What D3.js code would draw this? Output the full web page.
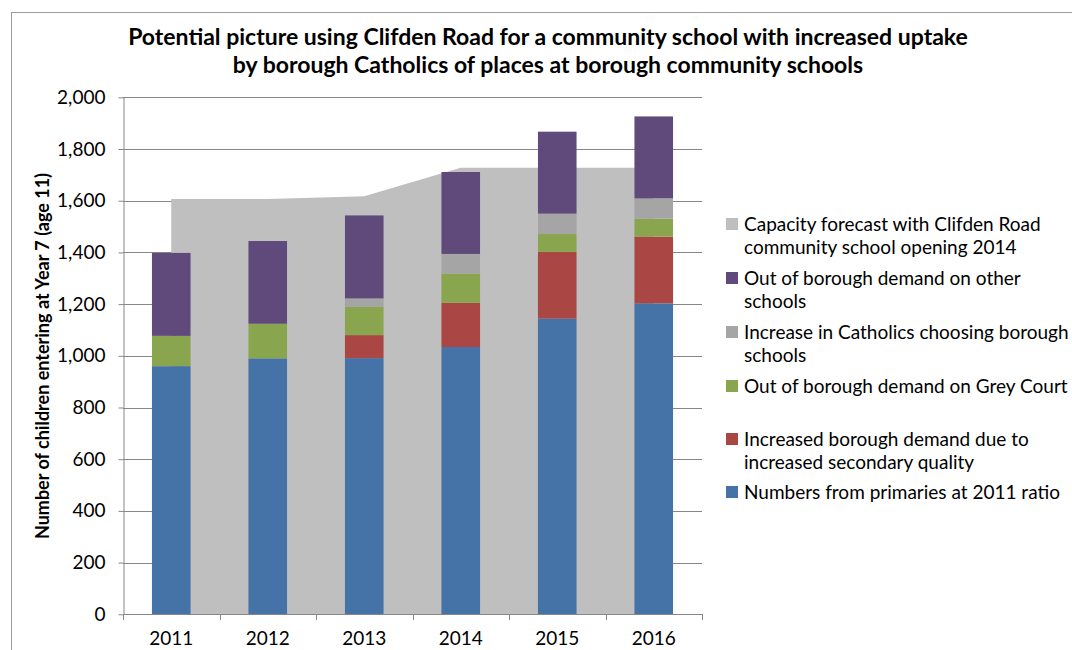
<!DOCTYPE html>
<html>
<head>
<meta charset="utf-8">
<script src="https://cdn.jsdelivr.net/npm/d3@7"></script>
<style>
  body { margin: 0; background: white; }
  svg text { font-family: Lato, "Open Sans", sans-serif; fill: #000; }
</style>
</head>
<body>
<svg></svg>
<script>
var w = 1072;
var h = 650;

// values
var years = ["2011", "2012", "2013", "2014", "2015", "2016"];
var capacity = [1607, 1607, 1617, 1727, 1727, 1727];
var primaries = [960, 990, 991, 1034, 1144, 1203];
var qualityDemand = [0, 0, 89, 171, 258, 258];
var greyCourt = [117, 134, 109, 113, 69, 69];
var catholics = [0, 0, 33, 76, 79, 79];
var otherSchools = [321, 320, 321, 317, 317, 317];
var yTicks = [0, 200, 400, 600, 800, 1000, 1200, 1400, 1600, 1800, 2000];

var seriesNames = ["primaries", "qualityDemand", "greyCourt", "catholics", "otherSchools"];
var seriesColors = {
	primaries: "#4572A7",
	qualityDemand: "#AA4643",
	greyCourt: "#89A54E",
	catholics: "#A5A5A5",
	otherSchools: "#604A7B"
};

var legendItems = [
	{ color: "#BFBFBF", lines: ["Capacity forecast with Clifden Road", "community school opening 2014"], y: 224 },
	{ color: "#604A7B", lines: ["Out of borough demand on other", "schools"], y: 278 },
	{ color: "#A5A5A5", lines: ["Increase in Catholics choosing borough", "schools"], y: 332 },
	{ color: "#89A54E", lines: ["Out of borough demand on Grey Court"], y: 386 },
	{ color: "#AA4643", lines: ["Increased borough demand due to", "increased secondary quality"], y: 439 },
	{ color: "#4572A7", lines: ["Numbers from primaries at 2011 ratio"], y: 492 }
];

var rows = years.map(function (yr, i) {
	return {
		year: yr,
		primaries: primaries[i],
		qualityDemand: qualityDemand[i],
		greyCourt: greyCourt[i],
		catholics: catholics[i],
		otherSchools: otherSchools[i]
	};
});

var plotLeft = 123, plotRight = 702, plotTop = 97.3, plotBottom = 614.3;

var canvas = d3.select("svg")
	.attr("width", w)
	.attr("height", h)
	.style("background-color", "white");

// chart frame
canvas.append("rect")
	.attr("x", 11.5)
	.attr("y", 12.5)
	.attr("width", 1200)
	.attr("height", 800)
	.attr("fill", "none")
	.attr("stroke", "#9a9a9a")
	.attr("stroke-width", 1);

var x = d3.scaleBand()
	.domain(years)
	.range([plotLeft, plotRight])
	.paddingInner(0.6)
	.paddingOuter(0.3);

var y = d3.scaleLinear()
	.domain([0, 2000])
	.range([plotBottom, plotTop]);

// gridlines
canvas.append("g")
	.selectAll("line")
	.data(yTicks.slice(1))
	.join("line")
	.attr("x1", plotLeft)
	.attr("x2", plotRight)
	.attr("y1", function (d) { return Math.round(y(d)) + 0.5; })
	.attr("y2", function (d) { return Math.round(y(d)) + 0.5; })
	.attr("stroke", "#878787")
	.attr("stroke-width", 1);

// capacity area
var area = d3.area()
	.x(function (d, i) { return x(years[i]) + x.bandwidth() / 2; })
	.y0(y(0))
	.y1(function (d) { return y(d); });

canvas.append("path")
	.datum(capacity)
	.attr("d", area)
	.attr("fill", "#BFBFBF");

// stacked bars
var stack = d3.stack().keys(seriesNames);
var layers = stack(rows);

canvas.append("g")
	.selectAll("g")
	.data(layers)
	.join("g")
	.attr("fill", function (d) { return seriesColors[d.key]; })
	.selectAll("rect")
	.data(function (d) { return d; })
	.join("rect")
	.attr("x", function (d) { return x(d.data.year); })
	.attr("width", x.bandwidth())
	.attr("y", function (d) { return y(d[1]); })
	.attr("height", function (d) { return y(d[0]) - y(d[1]); });

// y axis
var yAxis = canvas.append("g")
	.attr("transform", "translate(" + (plotLeft + 0.5) + ",0)")
	.call(d3.axisLeft(y).tickValues(yTicks).tickFormat(d3.format(",")).tickSizeInner(5).tickSizeOuter(0).tickPadding(13));
yAxis.select(".domain").attr("stroke", "#878787");
yAxis.selectAll(".tick line").attr("stroke", "#878787");
yAxis.selectAll(".tick text")
	.attr("font-size", 19)
	.attr("font-family", "Lato, sans-serif")
	.attr("fill", "#000");

// x axis
var xAxis = canvas.append("g")
	.attr("transform", "translate(0," + (Math.round(plotBottom) + 0.5) + ")")
	.call(d3.axisBottom(x).tickSize(0).tickPadding(17));
xAxis.select(".domain").attr("stroke", "#878787").attr("d", "M" + plotLeft + ",0H" + plotRight);
xAxis.selectAll(".tick text")
	.attr("font-size", 19)
	.attr("font-family", "Lato, sans-serif")
	.attr("fill", "#000");

var bounds = years.map(function (yr) { return x(yr) - x.step() * x.paddingInner() / 2; });
bounds.push(plotRight);
canvas.append("g")
	.selectAll("line")
	.data(bounds)
	.join("line")
	.attr("x1", function (d) { return Math.round(d) + 0.5; })
	.attr("x2", function (d) { return Math.round(d) + 0.5; })
	.attr("y1", Math.round(plotBottom))
	.attr("y2", Math.round(plotBottom) + 6)
	.attr("stroke", "#878787");

// axis title
canvas.append("text")
	.attr("transform", "translate(49,356) rotate(-90)")
	.attr("text-anchor", "middle")
	.attr("font-size", 18)
	.attr("font-weight", "bold")
	.text("Number of children entering at Year 7 (age 11)");

// chart title
var titleLines = [
	"Potential picture using Clifden Road for a community school with increased uptake",
	"by borough Catholics of places at borough community schools"
];
canvas.append("g")
	.selectAll("text")
	.data(titleLines)
	.join("text")
	.attr("x", 548)
	.attr("y", function (d, i) { return 45 + i * 28; })
	.attr("text-anchor", "middle")
	.attr("font-size", 23)
	.attr("font-weight", "bold")
	.text(function (d) { return d; });

// legend
var legend = canvas.append("g");
var item = legend.selectAll("g")
	.data(legendItems)
	.join("g");
item.append("rect")
	.attr("x", 726)
	.attr("y", function (d) { return d.y - 6; })
	.attr("width", 12)
	.attr("height", 12)
	.attr("fill", function (d) { return d.color; });
item.selectAll("text")
	.data(function (d) { return d.lines.map(function (l, i) { return { text: l, y: d.y + i * 23 }; }); })
	.join("text")
	.attr("x", 744)
	.attr("y", function (d) { return d.y + 7; })
	.attr("font-size", 19)
	.text(function (d) { return d.text; });
</script>
</body>
</html>
